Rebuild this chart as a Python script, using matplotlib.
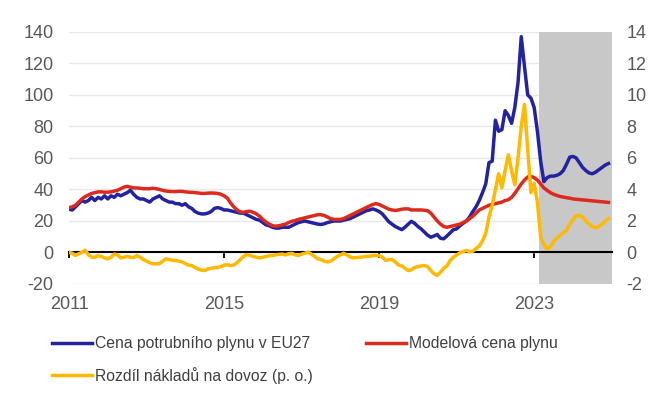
import numpy as np
import matplotlib.pyplot as plt

plt.rcParams['font.family'] = ['Liberation Sans', 'DejaVu Sans']
plt.rcParams['axes.unicode_minus'] = False

# Monthly data, Jan 2011 - Dec 2024
start_year = 2011
forecast_start = 2023 + 1.5 / 12  # shaded forecast period

# Cena potrubniho plynu v EU27 (left axis)
pipeline_price = [
    27.5, 27, 29, 31, 33, 32, 33, 35, 33, 35, 34, 36,            # 2011
    34, 36, 35, 37, 36, 37, 38, 39.5, 37, 35, 34, 34,            # 2012
    33, 32, 34, 35, 36, 34, 33, 32, 32, 31, 31, 30,              # 2013
    31, 29, 28, 26, 25, 24.5, 24.5, 25, 26, 28, 28.5, 28,        # 2014
    27, 27, 26.5, 26, 25.5, 25, 25, 24, 23, 22, 21, 20.5,        # 2015
    19, 17.5, 17, 16, 15.5, 15.5, 16, 16, 16, 17, 18, 19,        # 2016
    19.5, 20, 19.5, 19, 18.5, 18, 17.8, 18.2, 19, 19.5, 20, 20,  # 2017
    20, 20.5, 21, 21.5, 22.5, 23.5, 24.5, 25.5, 26.5, 27, 27.7, 27,  # 2018
    26, 24.5, 22, 19.5, 18, 16.5, 15.5, 14.5, 16, 18, 19.8, 18.5,    # 2019
    16.5, 15, 13, 11, 9.7, 10.5, 11.4, 9, 8.7, 10.5, 12.5, 14.5,     # 2020
    15, 17, 18.5, 20, 22.5, 26, 29, 33, 38, 43.5, 57, 58,            # 2021
    84, 77, 78, 90, 87, 82, 92, 108, 137, 118, 100, 98,              # 2022
    92, 77, 58, 45, 47.5, 48.5, 48.5, 49, 50, 52, 56, 60.5,          # 2023
    61, 60, 57, 54, 52, 50.5, 50, 51, 52.5, 54, 55.5, 56.5,          # 2024
]

# Modelova cena plynu (left axis)
model_price = [
    28.5, 29, 30, 32, 34, 35.5, 36.5, 37.5, 38, 38.5, 38.5, 38.3,        # 2011
    38.3, 38.5, 39, 39.5, 40.5, 41.5, 42, 41.5, 41, 41, 40.8, 40.5,      # 2012
    40.5, 40.5, 40.8, 40.5, 40, 39.5, 39, 38.8, 38.7, 38.7, 38.8, 38.8,  # 2013
    38.5, 38.3, 38.2, 38, 37.8, 37.5, 37.5, 37.7, 37.8, 37.7, 37.5, 37,  # 2014
    36, 34.5, 31.5, 29, 27, 25.8, 25.5, 26, 26.2, 25.5, 24.5, 23,        # 2015
    21, 19.3, 18, 17, 16.7, 17, 17.5, 18, 19, 19.8, 20.3, 21,            # 2016
    21.5, 22, 22.5, 23, 23.5, 24, 24, 23.5, 22.5, 21.5, 21, 21,          # 2017
    21, 21.5, 22.5, 23.5, 24.5, 25.5, 26.5, 27.5, 28.5, 29.5, 30.5, 31,  # 2018
    30.5, 29.5, 28.5, 27.5, 27, 26.7, 27, 27.5, 27.7, 27.7, 27, 27,      # 2019
    27, 27, 26.8, 26.5, 25, 22.5, 20, 18, 16.5, 16, 16.5, 17,            # 2020
    17.5, 18, 19, 20, 21.5, 23, 25, 27, 28, 29, 30, 30.5,                # 2021
    31, 31.5, 32, 33, 33.5, 35, 37.5, 40.5, 43.5, 46, 48, 48.3,          # 2022
    47.5, 46, 43.5, 41, 39.5, 38, 37, 36.2, 35.6, 35.2, 34.8, 34.5,      # 2023
    34, 33.8, 33.6, 33.4, 33.2, 33, 32.8, 32.6, 32.4, 32.2, 32, 31.8,    # 2024
]

# Rozdil nakladu na dovoz, p. o. (right axis)
cost_gap = [
    0.02, -0.05, -0.19, -0.08, 0.0, 0.15, -0.15, -0.3, -0.3, -0.2, -0.25, -0.34,       # 2011
    -0.4, -0.3, -0.1, -0.15, -0.34, -0.3, -0.25, -0.3, -0.32, -0.2, -0.3, -0.45,       # 2012
    -0.55, -0.65, -0.72, -0.72, -0.7, -0.55, -0.4, -0.45, -0.5, -0.5, -0.55, -0.6,     # 2013
    -0.7, -0.8, -0.83, -0.95, -1.05, -1.12, -1.14, -1.05, -1.0, -0.97, -0.95, -0.9,    # 2014
    -0.8, -0.78, -0.83, -0.8, -0.65, -0.45, -0.25, -0.13, -0.18, -0.25, -0.3, -0.34,   # 2015
    -0.3, -0.25, -0.2, -0.19, -0.15, -0.12, -0.1, -0.15, -0.08, -0.05, -0.15, -0.19,   # 2016
    -0.1, -0.05, 0.02, -0.1, -0.25, -0.4, -0.45, -0.55, -0.6, -0.55, -0.4, -0.25,      # 2017
    -0.15, -0.05, -0.15, -0.28, -0.34, -0.32, -0.3, -0.28, -0.25, -0.23, -0.2, -0.19,  # 2018
    -0.2, -0.3, -0.5, -0.45, -0.44, -0.6, -0.8, -0.85, -1.0, -1.15, -1.1, -0.95,       # 2019
    -0.9, -0.85, -0.83, -0.9, -1.15, -1.35, -1.45, -1.25, -1.0, -0.85, -0.5, -0.3,     # 2020
    -0.15, -0.02, 0.05, 0.13, 0.05, 0.08, 0.25, 0.4, 0.75, 1.2, 2.25, 3.0,             # 2021
    4.0, 5.0, 4.1, 5.2, 6.2, 5.2, 4.3, 6.0, 8.0, 9.4, 6.5, 3.8,                        # 2022
    4.4, 3.2, 1.0, 0.5, 0.2, 0.35, 0.7, 0.9, 1.1, 1.25, 1.4, 1.8,                      # 2023
    2.1, 2.35, 2.35, 2.25, 2.0, 1.8, 1.65, 1.57, 1.65, 1.8, 2.0, 2.15,                 # 2024
]

year_ticks = [2011, 2015, 2019, 2023]
left_ticks = [-20, 0, 20, 40, 60, 80, 100, 120, 140]
right_ticks = [-2, 0, 2, 4, 6, 8, 10, 12, 14]

labels = ['Cena potrubního plynu v EU27', 'Modelová cena plynu',
          'Rozdíl nákladů na dovoz (p. o.)']

t = start_year + np.arange(len(pipeline_price)) / 12

blue = '#2323a0'
red = '#dc2a1e'
yellow = '#ffb900'
txt = '#595959'

fig = plt.figure(figsize=(6.7, 4.03), dpi=100)
ax = fig.add_axes([0.103, 0.2953, 0.81, 0.6253])
ax2 = ax.twinx()

# shaded forecast area
ax.axvspan(forecast_start, 2025, color='#c8c8c8', lw=0, zorder=1)

l1, = ax.plot(t, pipeline_price, color=blue, lw=2.5, zorder=3)
l2, = ax.plot(t, model_price, color=red, lw=2.5, zorder=3)
l3, = ax2.plot(t, cost_gap, color=yellow, lw=2.5, zorder=3)

ax.set_xlim(2011, 2025)
ax.set_ylim(-20, 140)
ax2.set_ylim(-2, 14)
ax.set_yticks(left_ticks)
ax2.set_yticks(right_ticks)

ax.set_axisbelow(True)
ax.grid(axis='y', color='#e8e8e8', lw=1)
for s in ['top', 'left', 'right']:
    ax.spines[s].set_visible(False)
for s in ax2.spines.values():
    s.set_visible(False)

# zero line with year ticks
ax.spines['bottom'].set_position(('data', 0))
ax.spines['bottom'].set_linewidth(1.5)
ax.spines['bottom'].set_zorder(2.5)
ax.set_xticks(year_ticks)
ax.tick_params(axis='x', direction='out', length=4, width=1.3, labelbottom=False)

# year labels at the bottom of the plot
secx = ax.secondary_xaxis('bottom')
secx.set_xticks(year_ticks)
secx.set_xticklabels([str(y) for y in year_ticks])
secx.tick_params(length=0, pad=9, labelsize=13, labelcolor=txt)
secx.spines['bottom'].set_visible(False)

ax.tick_params(axis='y', length=0, pad=11, labelsize=13, labelcolor=txt)
ax2.tick_params(axis='y', length=0, pad=10.5, labelsize=13, labelcolor=txt)

# legend filled column by column: blue, yellow | red
fig.legend([l1, l3, l2], [labels[0], labels[2], labels[1]],
           loc='upper left', bbox_to_anchor=(0.0776, 0.166),
           ncol=2, frameon=False, fontsize=11.3, labelcolor='#404040',
           handlelength=2.55, handletextpad=0.2, columnspacing=3.4,
           labelspacing=1.0, borderpad=0, borderaxespad=0)

fig.savefig('out.png', dpi=100)
